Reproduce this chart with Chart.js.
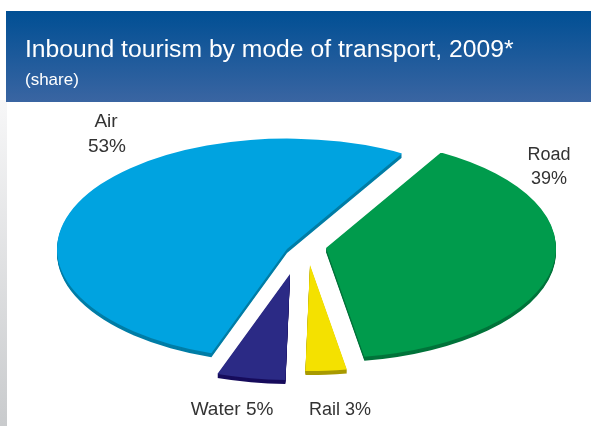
<!DOCTYPE html>
<html>
<head>
<meta charset="utf-8">
<style>
    html, body { margin: 0; padding: 0; background: #fff; overflow: hidden; }
    canvas { display: block; }
</style>
<script src="https://cdn.jsdelivr.net/npm/chart.js@4"></script>
</head>
<body>
<canvas id="grafica" width="591" height="426"></canvas>
<script>
const categories = ['Road', 'Rail', 'Water', 'Air'];
const shares = [39, 3, 5, 53];
const topColors = ['#009b4c', '#f4e100', '#2b2a85', '#00a3e0'];
const edgeColors = ['#00733a', '#a89a00', '#170c5c', '#007da6'];
// separación de cada porción respecto al centro, en px de pantalla
const explodeX = [21, 5, -15, -18];
const explodeY = [-4, 13, 22, -3];
const sliceScale = [1, 0.96, 0.96, 1];

const titleText = 'Inbound tourism by mode of transport, 2009*';
const subtitleText = '(share)';

const TILT = 0.48;
const DEPTH = 4;

// fondo, franja lateral y banner
const frame = {
    id: 'frame',
    beforeDraw(chart) {
        const ctx = chart.ctx;
        ctx.save();
        ctx.fillStyle = '#fff';
        ctx.fillRect(0, 0, 591, 426);
        const side = ctx.createLinearGradient(0, 100, 0, 426);
        side.addColorStop(0, '#f7f7f8');
        side.addColorStop(1, '#c9cbcd');
        ctx.fillStyle = side;
        ctx.fillRect(0, 100, 7, 326);
        const band = ctx.createLinearGradient(0, 11, 0, 102);
        band.addColorStop(0, '#004f94');
        band.addColorStop(1, '#3a65a2');
        ctx.fillStyle = band;
        ctx.fillRect(6, 11, 585, 91);
        ctx.restore();
    }
};

// tarta inclinada con canto, cada porción separada del centro
const tilted = {
    id: 'tilted',
    beforeDatasetDraw(chart, args) {
        const ctx = chart.ctx;
        args.meta.data.forEach((arc, i) => {
            const radius = arc.outerRadius;
            arc.outerRadius = radius * sliceScale[i];
            for (let d = DEPTH; d >= 0; d--) {
                ctx.save();
                ctx.translate(arc.x + explodeX[i], arc.y + explodeY[i] + d);
                ctx.scale(1, TILT);
                ctx.translate(-arc.x, -arc.y);
                arc.options.backgroundColor = d === 0 ? topColors[i] : edgeColors[i];
                arc.draw(ctx);
                ctx.restore();
            }
            arc.outerRadius = radius;
        });
        return false;
    }
};

// textos
const texts = {
    id: 'texts',
    afterDraw(chart) {
        const ctx = chart.ctx;
        ctx.save();
        ctx.fillStyle = '#fff';
        ctx.textBaseline = 'alphabetic';
        ctx.textAlign = 'left';
        ctx.font = '24.7px "Liberation Sans"';
        ctx.fillText(titleText, 25, 57);
        ctx.font = '17px "Liberation Sans"';
        ctx.fillText(subtitleText, 25, 85);

        ctx.fillStyle = '#333';
        ctx.textAlign = 'center';
        ctx.font = '19px "Liberation Sans"';
        ctx.fillText(categories[3], 106, 127);
        ctx.fillText(shares[3] + '%', 107, 152);
        ctx.fillText(categories[2] + ' ' + shares[2] + '%', 232, 415);
        ctx.font = '18px "Liberation Sans"';
        ctx.fillText(categories[0], 549, 160);
        ctx.fillText(shares[0] + '%', 549, 184);
        ctx.fillText(categories[1] + ' ' + shares[1] + '%', 340, 415);
        ctx.restore();
    }
};

new Chart(document.getElementById('grafica'), {
    type: 'pie',
    data: {
        labels: categories,
        datasets: [{
            data: shares,
            backgroundColor: topColors,
            borderWidth: 0
        }]
    },
    options: {
        responsive: false,
        animation: false,
        rotation: 30,
        radius: 230,
        layout: { padding: { left: 19, top: 78 } },
        plugins: {
            legend: { display: false },
            tooltip: { enabled: false }
        }
    },
    plugins: [frame, tilted, texts]
});
</script>
</body>
</html>
